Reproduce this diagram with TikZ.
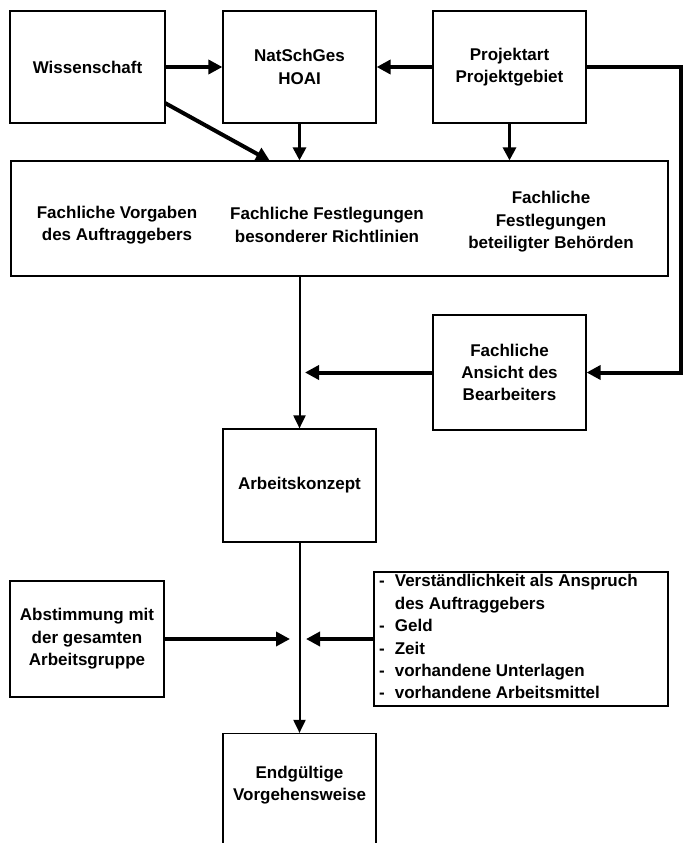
\documentclass[tikz,border=0pt]{standalone}
\usepackage{fontspec}
\setmainfont{Liberation Sans}
\usetikzlibrary{arrows.meta}
\begin{document}
\begin{tikzpicture}[x=1pt,y=-1pt,
  lbl/.style={inner sep=0pt, align=center, font=\fontsize{17}{22.4}\selectfont\bfseries},
  box/.style={lbl, draw, line width=1.2pt},
  bigarrow/.style={line width=4pt, line join=miter, -{Triangle[length=14pt,width=14pt]}},
  midarrow/.style={line width=3pt, -{Triangle[length=13pt,width=13pt]}},
  thinarrow/.style={line width=2pt, -{Triangle[length=13pt,width=12pt]}}
]
\useasboundingbox (0,0) rectangle (686,843);

% top row
\node[box, minimum width=155pt, minimum height=112pt] (wiss) at (87.5,67) {Wissenschaft};
\node[box, minimum width=153pt, minimum height=112pt] (nat) at (299.5,67) {NatSchGes\\HOAI};
\node[box, minimum width=153pt, minimum height=112pt] (proj) at (509.5,67) {Projektart\\Projektgebiet};

% big box
\node[box, minimum width=657pt, minimum height=115pt] (big) at (339.5,218.5) {};
\node[lbl] (vorg) at (117,225) {Fachliche Vorgaben\\des Auftraggebers};
\node[lbl] (richt) at (327,225) {Fachliche Festlegungen\\besonderer Richtlinien};
\node[lbl] (behoe) at (551,222) {Fachliche\\Festlegungen\\beteiligter Behörden};

% middle
\node[box, minimum width=153pt, minimum height=115pt] (ans) at (509.5,372.5) {Fachliche\\Ansicht des\\Bearbeiters};
\node[box, minimum width=153pt, minimum height=113pt] (ak) at (299.5,485.5) {Arbeitskonzept};

% lower row
\node[box, minimum width=154pt, minimum height=116pt] (abst) at (87,639) {Abstimmung mit\\der gesamten\\Arbeitsgruppe};
\node[box, minimum width=294pt, minimum height=134pt] (list) at (521,639) {};
\node[lbl, anchor=west] (listtxt) at (379,638.5) {\renewcommand{\arraystretch}{1}%
\begin{tabular}{@{}l@{\hspace{10pt}}l@{}}
- & Verständlichkeit als Anspruch\\
  & des Auftraggebers\\
- & Geld\\
- & Zeit\\
- & vorhandene Unterlagen\\
- & vorhandene Arbeitsmittel
\end{tabular}};

% bottom
\node[box, minimum width=153pt, minimum height=118pt] (end) at (299.5,792.5) {};
\node[lbl] (endtxt) at (299.5,785) {Endgültige\\Vorgehensweise};

% helper coordinates
\coordinate (rc1) at (681,67);
\coordinate (rc2) at (681,372.5);
\coordinate (ansTip) at (305,372.5);
\coordinate (abTip) at (290,639);
\coordinate (liTip) at (306,639);
\coordinate (diagStart) at (165,103);
\coordinate (diagEnd) at (270,161);

% connectors
\draw[bigarrow] (wiss.east) -- (nat.west);
\draw[bigarrow] (proj.west) -- (nat.east);
\draw[bigarrow] (diagStart) -- (diagEnd);
\draw[midarrow] (nat.south) -- (nat.south |- big.north);
\draw[midarrow] (proj.south) -- (proj.south |- big.north);
\draw[bigarrow] (proj.east) -- (rc1) -- (rc2) -- (ans.east);
\draw[bigarrow] (ans.west) -- (ansTip);
\draw[thinarrow] (big.south -| ak.north) -- (ak.north);
\draw[thinarrow] (ak.south) -- (end.north);
\draw[bigarrow] (abst.east) -- (abTip);
\draw[bigarrow] (list.west) -- (liTip);
\end{tikzpicture}
\end{document}
